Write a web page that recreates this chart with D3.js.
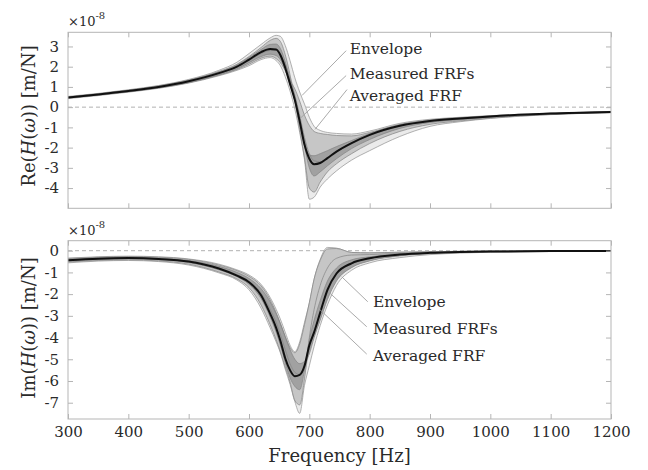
<!DOCTYPE html>
<html>
<head>
<meta charset="utf-8">
<script src="https://cdn.jsdelivr.net/npm/d3@7"></script>
<style>
  body { margin: 0; background: #fff; }
  svg text { font-family: "DejaVu Serif", "Liberation Serif", serif; fill: #2a2a2a; }
</style>
</head>
<body>
<svg id="chart" width="648" height="470"></svg>
<script>
// frequency grid [Hz], values in 1e-8 m/N
const freqs = [300, 350, 400, 450, 500, 550, 580, 600, 620, 635, 645, 652, 660, 668, 676,
  684, 692, 700, 708, 718, 730, 745, 770, 800, 850, 900, 950, 1000, 1100, 1200];

// real part
const reAverage = [0.48, 0.63, 0.80, 1.00, 1.28, 1.68, 2.00, 2.35, 2.72, 2.87, 2.85, 2.58, 1.95, 1.15, 0.35,
  -0.70, -1.85, -2.55, -2.82, -2.76, -2.52, -2.20, -1.78, -1.37, -0.92, -0.68, -0.56, -0.46, -0.32, -0.24];
const reEnvHigh = [0.53, 0.68, 0.86, 1.07, 1.37, 1.82, 2.22, 2.65, 3.10, 3.42, 3.55, 3.50, 3.05, 2.30, 1.45,
  0.75, 0.15, -0.50, -0.95, -1.15, -1.25, -1.30, -1.33, -1.18, -0.80, -0.60, -0.50, -0.42, -0.30, -0.21];
const reEnvLow = [0.42, 0.57, 0.74, 0.93, 1.19, 1.55, 1.82, 2.05, 2.35, 2.45, 2.30, 2.05, 1.50, 0.80, -0.10,
  -1.25, -2.60, -4.55, -4.45, -3.95, -3.55, -3.15, -2.62, -2.15, -1.45, -0.95, -0.72, -0.56, -0.37, -0.27];
const reMeasured = [
  [0.50, 0.66, 0.84, 1.05, 1.34, 1.76, 2.12, 2.50, 2.95, 3.30, 3.40, 3.25, 2.60, 1.60, 0.30,
   -1.10, -2.50, -4.00, -4.20, -3.70, -3.20, -2.80, -2.30, -1.80, -1.20, -0.85, -0.68, -0.54, -0.36, -0.27],
  [0.49, 0.64, 0.82, 1.03, 1.32, 1.74, 2.08, 2.45, 2.85, 3.10, 3.12, 2.90, 2.25, 1.35, 0.45,
   -0.60, -1.90, -3.00, -3.40, -3.20, -2.90, -2.55, -2.05, -1.60, -1.05, -0.76, -0.62, -0.50, -0.34, -0.25],
  [0.47, 0.62, 0.79, 0.99, 1.26, 1.66, 1.98, 2.30, 2.65, 2.80, 2.80, 2.60, 2.10, 1.40, 0.60,
   -0.40, -1.50, -2.30, -2.65, -2.70, -2.50, -2.20, -1.80, -1.40, -0.93, -0.69, -0.56, -0.46, -0.32, -0.24],
  [0.46, 0.61, 0.77, 0.96, 1.22, 1.60, 1.90, 2.20, 2.50, 2.62, 2.55, 2.35, 1.85, 1.10, 0.30,
   -0.80, -1.90, -2.40, -2.40, -2.30, -2.15, -1.95, -1.65, -1.30, -0.88, -0.66, -0.54, -0.45, -0.31, -0.23],
  [0.45, 0.60, 0.76, 0.95, 1.21, 1.58, 1.86, 2.12, 2.42, 2.52, 2.40, 2.20, 1.80, 1.30, 0.90,
   0.30, -0.40, -0.90, -1.20, -1.30, -1.35, -1.40, -1.42, -1.25, -0.85, -0.63, -0.52, -0.43, -0.30, -0.22],
];

// imaginary part
const imAverage = [-0.44, -0.37, -0.34, -0.38, -0.50, -0.82, -1.15, -1.45, -2.05, -2.90, -3.55, -4.15, -4.95, -5.50, -5.78,
  -5.72, -5.30, -4.35, -3.75, -2.85, -1.80, -1.05, -0.58, -0.35, -0.18, -0.10, -0.06, -0.04, -0.02, -0.01];
const imEnvHigh = [-0.34, -0.28, -0.25, -0.28, -0.38, -0.62, -0.88, -1.12, -1.55, -2.15, -2.70, -3.15, -3.75, -4.35, -4.65,
  -4.20, -3.30, -2.40, -1.30, -0.40, 0.15, 0.12, -0.08, -0.10, -0.07, -0.05, -0.03, -0.02, -0.01, 0.00];
const imEnvLow = [-0.56, -0.48, -0.45, -0.50, -0.66, -1.02, -1.35, -1.80, -2.65, -3.55, -4.20, -4.70, -5.45, -6.15, -6.95,
  -7.49, -6.20, -5.30, -4.40, -3.45, -2.50, -1.60, -0.90, -0.56, -0.32, -0.18, -0.11, -0.07, -0.04, -0.02];
const imMeasured = [
  [-0.52, -0.45, -0.42, -0.47, -0.62, -0.98, -1.30, -1.70, -2.50, -3.40, -4.10, -4.65, -5.35, -6.05, -6.90,
   -7.10, -5.90, -4.00, -2.70, -1.60, -0.80, -0.35, -0.20, -0.18, -0.12, -0.07, -0.05, -0.03, -0.02, -0.01],
  [-0.48, -0.40, -0.37, -0.41, -0.55, -0.88, -1.20, -1.55, -2.20, -3.05, -3.75, -4.35, -5.15, -5.85, -6.25,
   -6.40, -5.50, -4.10, -3.20, -2.30, -1.40, -0.80, -0.42, -0.28, -0.15, -0.09, -0.06, -0.04, -0.02, -0.01],
  [-0.43, -0.36, -0.33, -0.37, -0.49, -0.80, -1.10, -1.40, -1.95, -2.70, -3.30, -3.85, -4.55, -5.20, -5.60,
   -5.70, -5.40, -4.50, -3.75, -2.85, -1.90, -1.10, -0.60, -0.36, -0.18, -0.10, -0.06, -0.04, -0.02, -0.01],
  [-0.40, -0.33, -0.30, -0.34, -0.45, -0.72, -1.00, -1.28, -1.75, -2.35, -2.90, -3.35, -3.95, -4.55, -5.00,
   -5.20, -5.10, -4.75, -4.00, -3.20, -2.25, -1.40, -0.78, -0.47, -0.24, -0.13, -0.08, -0.05, -0.03, -0.01],
  [-0.36, -0.30, -0.27, -0.30, -0.40, -0.66, -0.92, -1.18, -1.62, -2.25, -2.85, -3.35, -3.95, -4.45, -4.70,
   -4.30, -3.40, -2.40, -1.30, -0.45, 0.08, 0.10, -0.08, -0.10, -0.07, -0.05, -0.03, -0.02, -0.01, 0.00],
];

const xTicks = [300, 400, 500, 600, 700, 800, 900, 1000, 1100, 1200];
const reTicks = [-4, -3, -2, -1, 0, 1, 2, 3];
const imTicks = [-7, -6, -5, -4, -3, -2, -1, 0];
const noteLabels = ['Envelope', 'Measured FRFs', 'Averaged FRF'];

const svg = d3.select('#chart');
const left = 68, right = 611;

const x = d3.scaleLinear().domain([300, 1200]).range([left, right]);

const panels = [
  {
    id: 're', top: 32.3, bottom: 208.3, domain: [-5, 3.7], ticks: reTicks,
    avg: reAverage, hi: reEnvHigh, lo: reEnvLow, measured: reMeasured,
    name: 'Re', labelY: 116, showX: false,
    // leader lines: [text anchor, line start, line end] in data space
    notes: [
      { label: [767, 2.64], from: [761, 2.79], to: [688, 0.58] },
      { label: [767, 1.41], from: [761, 1.56], to: [684.6, -0.56] },
      { label: [767, 0.28], from: [762.5, 0.87], to: [709.4, -1.10] },
    ],
  },
  {
    id: 'im', top: 240.7, bottom: 419, domain: [-7.75, 0.46], ticks: imTicks,
    avg: imAverage, hi: imEnvHigh, lo: imEnvLow, measured: imMeasured,
    name: 'Im', labelY: 328, showX: true,
    notes: [
      { label: [805.6, -2.59], from: [796.8, -2.35], to: [753.7, -1.20] },
      { label: [805.6, -3.84], from: [795.1, -3.50], to: [731.5, -1.89] },
      { label: [805.6, -5.08], from: [795.1, -4.76], to: [715.1, -2.65] },
    ],
  },
];

panels.forEach(p => {
  const y = d3.scaleLinear().domain(p.domain).range([p.bottom, p.top]);
  const g = svg.append('g');

  g.append('clipPath').attr('id', `clip-${p.id}`)
    .append('rect')
    .attr('x', left).attr('y', p.top)
    .attr('width', right - left).attr('height', p.bottom - p.top);

  const plot = g.append('g').attr('clip-path', `url(#clip-${p.id})`);
  const idx = d3.range(freqs.length);

  const line = vals => d3.line()
    .x(i => x(freqs[i]))
    .y(i => y(vals[i]))
    .curve(d3.curveMonotoneX)(idx);

  const band = (series, fill, opacity) => plot.append('path')
    .attr('d', d3.area()
      .x(i => x(freqs[i]))
      .y0(i => y(d3.min(series, s => s[i])))
      .y1(i => y(d3.max(series, s => s[i])))
      .curve(d3.curveMonotoneX)(idx))
    .attr('fill', fill).attr('opacity', opacity);

  // zero reference
  plot.append('line')
    .attr('x1', left).attr('x2', right)
    .attr('y1', y(0)).attr('y2', y(0))
    .attr('stroke', '#a8a8a8').attr('stroke-width', 0.9)
    .attr('stroke-dasharray', '4,3');

  // envelope
  band([p.lo, p.hi], '#ebebeb', 1);
  [p.hi, p.lo].forEach(vals => {
    plot.append('path').attr('d', line(vals))
      .attr('fill', 'none').attr('stroke', '#9d9d9d').attr('stroke-width', 0.8);
  });

  // measured FRFs: sparse outer spread, dense inner spread, then the traces
  band(p.measured, '#c2c2c2', 0.9);
  band(p.measured.slice(1, 4), '#9c9c9c', 0.9);

  p.measured.forEach(vals => {
    plot.append('path').attr('d', line(vals))
      .attr('fill', 'none').attr('stroke', '#858585')
      .attr('stroke-width', 0.9).attr('opacity', 0.8);
  });

  // averaged FRF
  plot.append('path').attr('d', line(p.avg))
    .attr('fill', 'none').attr('stroke', '#111').attr('stroke-width', 2);

  // frame and ticks
  g.append('rect')
    .attr('x', left).attr('y', p.top)
    .attr('width', right - left).attr('height', p.bottom - p.top)
    .attr('fill', 'none').attr('stroke', '#b5b5b5').attr('stroke-width', 1);

  const fmt = d => String(d);
  const axes = [
    g.append('g').attr('transform', `translate(${left},0)`)
      .call(d3.axisLeft(y).tickValues(p.ticks).tickSize(-5).tickPadding(9).tickFormat(fmt)),
    g.append('g').attr('transform', `translate(${right},0)`)
      .call(d3.axisRight(y).tickValues(p.ticks).tickSize(-5).tickFormat('')),
    g.append('g').attr('transform', `translate(0,${p.top})`)
      .call(d3.axisTop(x).tickValues(xTicks).tickSize(-5).tickFormat('')),
    g.append('g').attr('transform', `translate(0,${p.bottom})`)
      .call(d3.axisBottom(x).tickValues(xTicks).tickSize(-5).tickPadding(7)
        .tickFormat(p.showX ? fmt : '')),
  ];
  axes.forEach(a => {
    a.select('.domain').remove();
    a.selectAll('.tick line').attr('stroke', '#b5b5b5');
    a.selectAll('.tick text')
      .attr('font-family', '"DejaVu Serif", serif')
      .attr('font-size', 15).attr('fill', '#2a2a2a');
  });

  // exponent
  const ex = g.append('text').attr('x', left).attr('y', p.top - 6).attr('font-size', 13);
  ex.append('tspan').text('×10');
  ex.append('tspan').attr('font-size', 10).attr('dy', -7).text('-8');

  // y label
  const yl = g.append('text')
    .attr('transform', `translate(35,${p.labelY}) rotate(-90)`)
    .attr('text-anchor', 'middle').attr('font-size', 18);
  yl.append('tspan').text(`${p.name}(`);
  yl.append('tspan').attr('font-style', 'italic').text('H');
  yl.append('tspan').text('(');
  yl.append('tspan').attr('font-style', 'italic').text('ω');
  yl.append('tspan').text(')) [m/N]');

  // annotations
  p.notes.forEach((n, k) => {
    g.append('line')
      .attr('x1', x(n.from[0])).attr('y1', y(n.from[1]))
      .attr('x2', x(n.to[0])).attr('y2', y(n.to[1]))
      .attr('stroke', '#a0a0a0').attr('stroke-width', 0.9);
    g.append('text')
      .attr('x', x(n.label[0])).attr('y', y(n.label[1]))
      .attr('font-size', 15.5)
      .text(noteLabels[k]);
  });
});

svg.append('text')
  .attr('x', (left + right) / 2).attr('y', 462)
  .attr('text-anchor', 'middle').attr('font-size', 18)
  .text('Frequency [Hz]');
</script>
</body>
</html>
